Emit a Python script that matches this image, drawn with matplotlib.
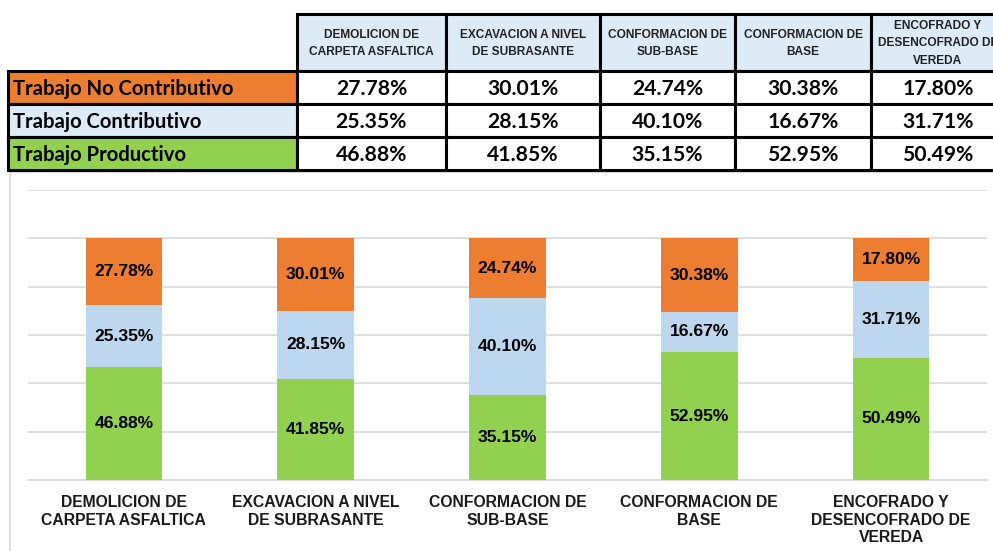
import matplotlib
matplotlib.use("Agg")
import matplotlib.pyplot as plt
from matplotlib.patches import Rectangle
import numpy as np

categories = ["DEMOLICION DE\nCARPETA ASFALTICA", "EXCAVACION A NIVEL\nDE SUBRASANTE",
              "CONFORMACION DE\nSUB-BASE", "CONFORMACION DE\nBASE",
              "ENCOFRADO Y\nDESENCOFRADO DE\nVEREDA"]
series_names = ["Trabajo No Contributivo", "Trabajo Contributivo", "Trabajo Productivo"]
no_contributivo = [27.78, 30.01, 24.74, 30.38, 17.80]
contributivo = [25.35, 28.15, 40.10, 16.67, 31.71]
productivo = [46.88, 41.85, 35.15, 52.95, 50.49]
y_ticks = [0, 20, 40, 60, 80, 100, 120]

C_ORANGE = "#ED7D31"
C_LBLUE = "#BDD7EE"
C_GREEN = "#92D050"
C_HEAD = "#DDEBF7"

W, H = 993, 551
fig = plt.figure(figsize=(W / 100, H / 100), dpi=100)

# ---------- chart ----------
ax = fig.add_axes([28 / W, 1 - 480 / H, (987 - 28) / W, (480 - 190) / H])
x = np.arange(len(categories))
bw = 0.4
b1 = ax.bar(x, productivo, bw, color=C_GREEN, zorder=3)
b2 = ax.bar(x, contributivo, bw, bottom=productivo, color=C_LBLUE, zorder=3)
bottom3 = np.array(productivo) + np.array(contributivo)
b3 = ax.bar(x, no_contributivo, bw, bottom=bottom3, color=C_ORANGE, zorder=3)
for bars in (b1, b2, b3):
    ax.bar_label(bars, labels=[f"{v:.2f}%" for v in bars.datavalues], label_type="center",
                 fontsize=12.6, fontweight="bold", family="Liberation Sans", color="black")
ax.set_xlim(-0.5, len(categories) - 0.5)
ax.set_ylim(0, 120)
ax.set_yticks(y_ticks)
ax.yaxis.grid(True, color="#D9D9D9", linewidth=1.2, zorder=0)
ax.tick_params(axis="y", left=False, labelleft=False)
ax.tick_params(axis="x", length=0, pad=11)
ax.set_xticks(x)
ax.set_xticklabels(categories, fontsize=11.3, fontweight="bold", family="Liberation Sans",
                   color="#1a1a1a", linespacing=1.2)
for s in ax.spines.values():
    s.set_visible(False)
ax.spines["bottom"].set_visible(True)
ax.spines["bottom"].set_color("#D9D9D9")
ax.spines["bottom"].set_linewidth(1.2)

# ---------- overlay for table ----------
ov = fig.add_axes([0, 0, 1, 1], zorder=5)
ov.set_xlim(0, W)
ov.set_ylim(H, 0)
ov.axis("off")
ov.patch.set_alpha(0)

# chart area border
ov.add_patch(Rectangle((10, 172), W, H, facecolor="none", edgecolor="#D9D9D9", lw=1.2))

col_edges = [297, 446, 600, 735, 871, 1005]
row_edges = [14, 71, 104, 137, 170]
label_left = 8
row_colors = [C_ORANGE, C_HEAD, C_GREEN]
row_values = [no_contributivo, contributivo, productivo]

# header cells
for j, cat in enumerate(categories):
    x0, x1 = col_edges[j], col_edges[j + 1]
    ov.add_patch(Rectangle((x0, row_edges[0]), x1 - x0, row_edges[1] - row_edges[0],
                           facecolor=C_HEAD, edgecolor="black", lw=2.2))
    ov.text((x0 + x1) / 2, (row_edges[0] + row_edges[1]) / 2 + 1, cat, ha="center", va="center",
            fontsize=8.6, fontweight="bold", family="Liberation Sans", linespacing=1.65,
            color="#222222")

# body rows
for i in range(3):
    y0, y1 = row_edges[i + 1], row_edges[i + 2]
    ov.add_patch(Rectangle((label_left, y0), col_edges[0] - label_left, y1 - y0,
                           facecolor=row_colors[i], edgecolor="black", lw=2.2))
    ov.text(label_left + 5, (y0 + y1) / 2 + 1.5, series_names[i], ha="left", va="center",
            fontsize=14.6, fontweight="bold", family="Lato", color="black")
    for j in range(len(categories)):
        x0, x1 = col_edges[j], col_edges[j + 1]
        ov.add_patch(Rectangle((x0, y0), x1 - x0, y1 - y0, facecolor="white",
                               edgecolor="black", lw=2.2))
        ov.text((x0 + x1) / 2, (y0 + y1) / 2 + 1.5, f"{row_values[i][j]:.2f}%", ha="center",
                va="center", fontsize=15.2, fontweight="bold", family="Lato", color="black")

fig.savefig("out.png", dpi=100)
